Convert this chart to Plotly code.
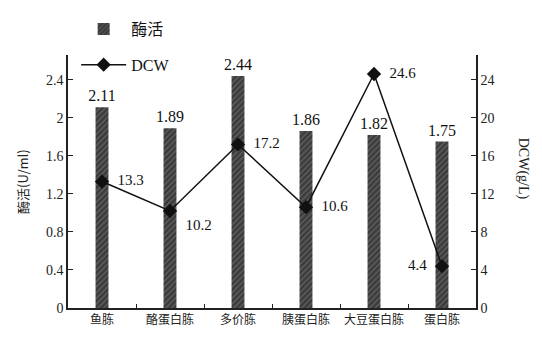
import plotly.graph_objects as go

# Nitrogen sources tested
categories = ["鱼胨", "酪蛋白胨", "多价胨", "胰蛋白胨", "大豆蛋白胨", "蛋白胨"]
# Enzyme activity (U/ml)
activity = [2.11, 1.89, 2.44, 1.86, 1.82, 1.75]
# Dry cell weight (g/L)
dcw = [13.3, 10.2, 17.2, 10.6, 24.6, 4.4]
dcw_text_pos = ["middle right", "bottom right", "middle right", "middle right", "middle right", "middle left"]

serif = "Liberation Serif, Noto Sans CJK SC, serif"


def pad(v, pos):
    s = f"{v}"
    return s + "  " if "left" in pos else "  " + s


fig = go.Figure()
fig.add_trace(go.Bar(
    x=categories, y=activity, name="酶活",
    width=0.19,
    marker=dict(color="#3c3c3c", line=dict(width=0),
                pattern=dict(shape="/", fgcolor="#9a9a9a", bgcolor="#3c3c3c", size=4, solidity=0.25)),
    text=[f"{v:.2f}" for v in activity], textposition="outside", constraintext="none",
    textfont=dict(family=serif, size=16, color="#111"),
    cliponaxis=False, legendgroup="a",
))
fig.add_trace(go.Scatter(
    x=categories, y=dcw, name="DCW", yaxis="y2",
    mode="lines+markers+text",
    line=dict(color="#111", width=1.5),
    marker=dict(symbol="diamond", size=11, color="#111"),
    text=[pad(v, p) for v, p in zip(dcw, dcw_text_pos)], textposition=dcw_text_pos,
    textfont=dict(family=serif, size=15, color="#111"),
    cliponaxis=False, legendgroup="b",
))

fig.update_layout(
    width=542, height=339,
    margin=dict(l=68, r=66, t=47, b=31),
    paper_bgcolor="white", plot_bgcolor="white",
    font=dict(family=serif, size=14, color="#111"),
    showlegend=True,
    legend=dict(x=0.02, y=1.17, xanchor="left", yanchor="top", itemwidth=45,
                bgcolor="rgba(0,0,0,0)", traceorder="grouped", tracegroupgap=12,
                font=dict(family=serif, size=16, color="#111")),
    bargap=0.8,
    xaxis=dict(showline=True, linecolor="#222", linewidth=1.5, ticks="inside",
               tickson="boundaries", ticklen=4, tickcolor="#222", showgrid=False,
               tickangle=0,
               tickfont=dict(family="Noto Sans CJK SC", size=12, color="#222")),
    yaxis=dict(range=[0, 2.66], dtick=0.4, tick0=0, showline=True, linecolor="#222",
               linewidth=1.5, ticks="inside", ticklen=5, tickcolor="#222",
               showgrid=False, zeroline=False, tickformat="~g",
               tickfont=dict(family=serif, size=14, color="#222")),
    yaxis2=dict(range=[0, 26.6], dtick=4, tick0=0, overlaying="y", side="right",
                showline=True, linecolor="#222", linewidth=1.5, ticks="inside",
                ticklen=5, tickcolor="#222", showgrid=False, zeroline=False,
                tickfont=dict(family=serif, size=14, color="#222")),
    annotations=[
        dict(text="酶活(U/ml)", x=-0.14, y=0.5, xref="paper", yref="paper",
             textangle=-90, showarrow=False,
             font=dict(family="Noto Sans CJK SC", size=13, color="#222")),
        dict(text="DCW(g/L)", x=1.14, y=0.55, xref="paper", yref="paper",
             textangle=90, showarrow=False,
             font=dict(family=serif, size=14, color="#222")),
    ],
)

fig.write_html("out.html")
